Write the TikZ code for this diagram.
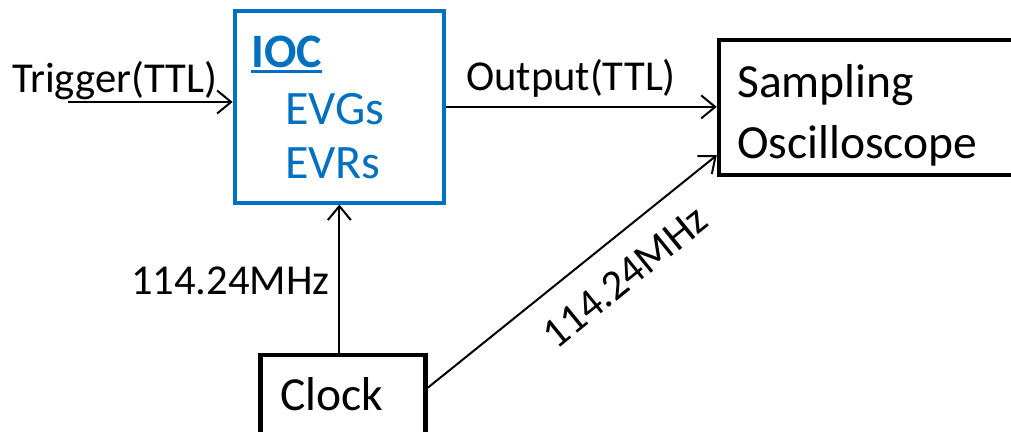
\documentclass[tikz,border=0pt]{standalone}
\usepackage{fontspec}
\setmainfont{Carlito}
\usetikzlibrary{arrows.meta,calc}
\definecolor{ocblue}{HTML}{0070C0}
\begin{document}
\begin{tikzpicture}[x=1pt,y=-1pt,
  boxk/.style={draw=black,line width=4.5pt,inner sep=0pt},
  boxb/.style={draw=ocblue,line width=4pt,inner sep=0pt},
  conn/.style={draw=black,line width=2pt,-{Straight Barb[length=14pt,width=23pt,line width=2pt]}},
  lab/.style={inner sep=0pt,anchor=base west,font=\fontsize{42.6}{51}\selectfont},
  labclk/.style={lab,font=\fontsize{47.5}{57}\selectfont},
  labscope/.style={lab,font=\fontsize{47.6}{61}\selectfont},
  labioc/.style={lab,text=ocblue,font=\fontsize{48}{58}\selectfont\bfseries},
  labev/.style={lab,text=ocblue,font=\fontsize{48}{58}\selectfont}]
\useasboundingbox (0,0) rectangle (1011,431);
\clip (0,0) rectangle (1011,431);
% boxes
\node[boxb,minimum width=209.3pt,minimum height=191.2pt] (ioc) at (339.35,106.9) {};
\node[boxk,minimum width=311pt,minimum height=135pt] (scope) at (874.5,107.5) {};
\node[boxk,minimum width=165pt,minimum height=105pt] (clock) at (343,407.5) {};
% texts
\node[lab] (trig) at (12,92) {Trigger(TTL)};
\node[lab] (out) at (466,90) {Output(TTL)};
\node[lab] (f1) at (131,294) {114.24MHz};
\node[labclk] (clk) at (280,410) {Clock};
\node[labscope] (s1) at (737,97) {Sampling};
\node[labscope] (s2) at (737,158) {Oscilloscope};
\node[labioc] (iocl) at (251,67) {IOC};
\draw[ocblue,line width=2.8pt] ([yshift=-4.5pt]iocl.base west) -- ([yshift=-4.5pt]iocl.base east);
\node[labev] (evg) at (285,124) {EVGs};
\node[labev] (evr) at (285,178) {EVRs};
% connectors
\coordinate (tin) at (68,102);
\draw[conn] (tin) -- (tin -| ioc.west);
\draw[conn] (ioc.east) -- (ioc.east -| scope.west);
\draw[conn] (ioc.south |- clock.north) -- (ioc.south);
\draw[conn] ([yshift=-35pt]clock.north east) -- ([yshift=22pt]scope.south west);
\node[lab,anchor=center,rotate=39.07] (f2) at (625,277) {114.24MHz};
\end{tikzpicture}
\end{document}
